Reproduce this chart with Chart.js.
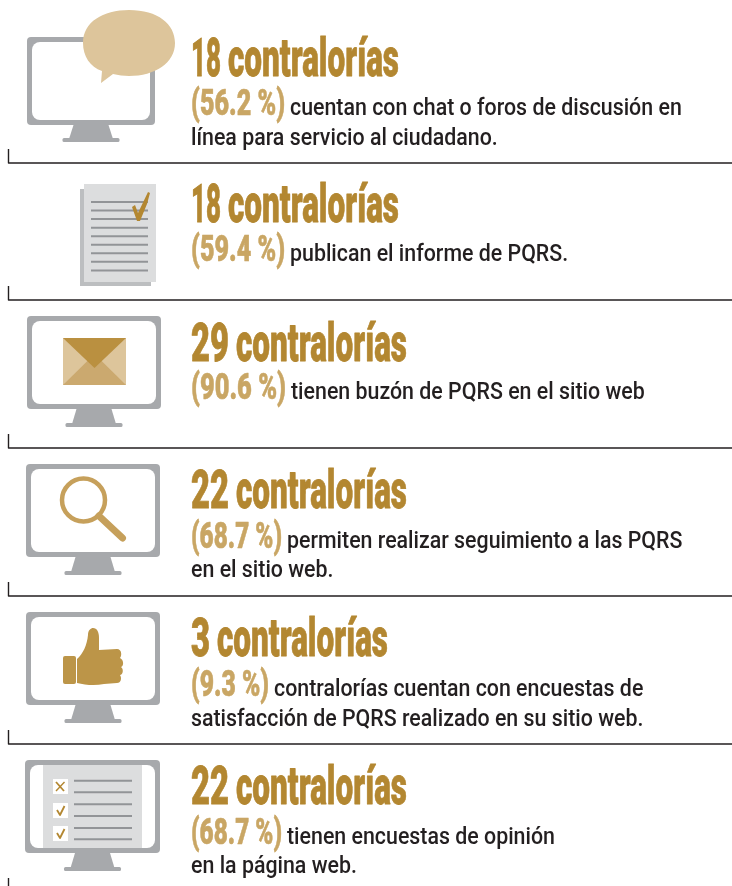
<!DOCTYPE html>
<html lang="es">
<head>
<meta charset="utf-8">
<title>Contralorías PQRS</title>
<style>
  html, body { margin: 0; padding: 0; background: #fff; }
  canvas { display: block; }
</style>
<script src="https://cdn.jsdelivr.net/npm/chart.js@4"></script>
</head>
<body>
<canvas id="chart" width="732" height="886"></canvas>
<script>
// values
const rows = ['chat', 'informe', 'buzon', 'seguimiento', 'encuestas', 'opinion'];
const counts = [18, 18, 29, 22, 3, 22];
const percents = ['56.2', '59.4', '90.6', '68.7', '9.3', '68.7'];
const firstLines = [
  'cuentan con chat o foros de discusión en',
  'publican el informe de PQRS.',
  'tienen buzón de PQRS en el sitio web',
  'permiten realizar seguimiento a las PQRS',
  'contralorías cuentan con encuestas de',
  'tienen encuestas de opinión'
];
const secondLines = [
  'línea para servicio al ciudadano.',
  '',
  '',
  'en el sitio web.',
  'satisfacción de PQRS realizado en su sitio web.',
  'en la página web.'
];

// layout, per row
const headBase = [76, 222, 361, 508, 656, 804];
const pctBase = [115, 261, 399, 548, 696, 844];
const line2Base = [145, 0, 0, 577, 726, 873];
const bodyX = [290, 290, 291, 287, 274, 287];
const countEnd = [221, 221, 229, 229, 210, 229];
const wordX = [228, 228, 236, 236, 217, 236];
const ruleY = [163, 300, 448, 596, 744];

const GOLD = '#B38731';
const GOLD_SOFT = '#C9A664';
const SAND = '#DDC59B';
const GREY = '#A7A9AC';
const PAPER = '#DCDDDE';
const INK = '#231F20';
const LINE = '#929497';

// draws text squeezed to a given width
function fitted(ctx, text, x, y, font, width, color, heft) {
  ctx.save();
  ctx.font = font;
  const sx = width / ctx.measureText(text).width;
  ctx.translate(x, y);
  ctx.scale(sx, 1);
  ctx.fillStyle = color;
  ctx.textBaseline = 'alphabetic';
  ctx.fillText(text, 0, 0);
  if (heft) {
    ctx.strokeStyle = color;
    ctx.lineWidth = heft;
    ctx.lineJoin = 'round';
    ctx.strokeText(text, 0, 0);
  }
  ctx.restore();
}

function squeezed(ctx, text, x, y, font, sx, color) {
  ctx.save();
  ctx.translate(x, y);
  ctx.scale(sx, 1);
  ctx.font = font;
  ctx.fillStyle = color;
  ctx.textBaseline = 'alphabetic';
  ctx.fillText(text, 0, 0);
  ctx.restore();
}

function roundRect(ctx, x, y, w, h, r, color) {
  ctx.beginPath();
  ctx.roundRect(x, y, w, h, r);
  ctx.fillStyle = color;
  ctx.fill();
}

function monitor(ctx, x, y, w, h, baseY, panel) {
  const mid = x + w / 2;
  roundRect(ctx, x, y, w, h, 4, GREY);
  roundRect(ctx, x + 5, y + 5, w - 10, h - 10, 8, '#fff');
  if (panel) {
    ctx.fillStyle = PAPER;
    ctx.fillRect(x + 18, y + 5, w - 36, h - 10);
  }
  ctx.fillStyle = GREY;
  ctx.beginPath();
  ctx.moveTo(mid - 17.5, y + h);
  ctx.lineTo(mid + 17.5, y + h);
  ctx.lineTo(mid + 22, baseY);
  ctx.lineTo(mid - 22, baseY);
  ctx.closePath();
  ctx.fill();
  roundRect(ctx, mid - 28.5, baseY - 1, 57, 4, 1.5, GREY);
}

function stroke(ctx, pts, color, width, cap) {
  ctx.beginPath();
  pts.forEach((p, i) => i ? ctx.lineTo(p[0], p[1]) : ctx.moveTo(p[0], p[1]));
  ctx.strokeStyle = color;
  ctx.lineWidth = width;
  ctx.lineCap = cap || 'butt';
  ctx.lineJoin = 'round';
  ctx.stroke();
}

function bubble(ctx) {
  ctx.fillStyle = SAND;
  ctx.beginPath();
  ctx.moveTo(83, 43);
  ctx.bezierCurveTo(83, 22, 103, 10, 129, 10);
  ctx.bezierCurveTo(158, 10, 175, 24, 175, 43);
  ctx.bezierCurveTo(175, 63, 155, 76, 129, 76);
  ctx.bezierCurveTo(124, 76, 118, 75, 113, 74);
  ctx.lineTo(101, 83);
  ctx.lineTo(102, 71);
  ctx.bezierCurveTo(90, 67, 83, 56, 83, 43);
  ctx.closePath();
  ctx.fill();
}

function documentIcon(ctx) {
  ctx.fillStyle = '#BCBEC0';
  ctx.fillRect(80, 189, 71, 97);
  ctx.fillStyle = PAPER;
  ctx.fillRect(84, 184, 72, 98);
  for (let i = 0; i < 9; i++) {
    const y = 202 + i * 8.55;
    stroke(ctx, [[91, y], [148, y]], LINE, 2);
  }
  ctx.fillStyle = GOLD;
  ctx.beginPath();
  ctx.moveTo(132, 207);
  ctx.lineTo(135, 205);
  ctx.lineTo(138, 213);
  ctx.lineTo(148, 192);
  ctx.lineTo(150, 193);
  ctx.lineTo(147, 204);
  ctx.lineTo(140, 221);
  ctx.lineTo(137, 221);
  ctx.closePath();
  ctx.fill();
}

function envelope(ctx) {
  ctx.fillStyle = SAND;
  ctx.fillRect(63, 338, 63, 47);
  ctx.fillStyle = '#CBA96F';
  ctx.beginPath();
  ctx.moveTo(63, 385);
  ctx.lineTo(94.5, 354);
  ctx.lineTo(126, 385);
  ctx.closePath();
  ctx.fill();
  ctx.fillStyle = '#BA9040';
  ctx.beginPath();
  ctx.moveTo(63, 338);
  ctx.lineTo(126, 338);
  ctx.lineTo(94.5, 368);
  ctx.closePath();
  ctx.fill();
}

function magnifier(ctx) {
  ctx.beginPath();
  ctx.arc(83.5, 500, 21.5, 0, Math.PI * 2);
  ctx.strokeStyle = '#C6A05B';
  ctx.lineWidth = 4.5;
  ctx.stroke();
  stroke(ctx, [[99, 516], [122.5, 538]], '#C6A05B', 7, 'round');
}

function thumb(ctx) {
  const c = '#BC9548';
  roundRect(ctx, 63, 656, 13, 28, 2, c);
  ctx.fillStyle = c;
  ctx.beginPath();
  ctx.moveTo(77, 659);
  ctx.bezierCurveTo(83, 654, 87, 645, 88, 635);
  ctx.bezierCurveTo(88, 630, 91, 628, 93, 628);
  ctx.bezierCurveTo(97, 628, 99, 632, 99, 638);
  ctx.lineTo(99, 650);
  ctx.lineTo(117, 649);
  ctx.bezierCurveTo(122, 649, 122, 656, 120, 658);
  ctx.bezierCurveTo(124, 660, 124, 666, 121, 667);
  ctx.bezierCurveTo(124, 669, 123, 675, 120, 675);
  ctx.bezierCurveTo(122, 678, 121, 683, 117, 683);
  ctx.lineTo(104, 684);
  ctx.bezierCurveTo(95, 686, 85, 685, 77, 683);
  ctx.closePath();
  ctx.fill();
}

function checklist(ctx) {
  [779, 803, 826].forEach((y, i) => {
    ctx.fillStyle = '#fff';
    ctx.fillRect(53, y, 15, 15);
    if (i === 0) {
      stroke(ctx, [[56, y + 3], [64, y + 12]], GOLD, 1.8);
      stroke(ctx, [[64.5, y + 3], [56, y + 12]], GOLD, 1.4);
    } else {
      stroke(ctx, [[57, y + 7], [60, y + 12], [64.5, y + 3]], GOLD, 1.8);
    }
  });
  [780.7, 792.3, 804.3, 816, 828, 839.3].forEach(y => {
    stroke(ctx, [[74, y], [132, y]], LINE, 2);
  });
}

const infographic = {
  id: 'infographic',
  afterDraw(chart) {
    const ctx = chart.ctx;
    const values = chart.data.datasets[0].data;

    // separators
    ruleY.forEach(y => {
      stroke(ctx, [[8.5, y - 14], [8.5, y], [732, y]], INK, 1.4);
    });
    stroke(ctx, [[8.5, 878], [8.5, 886]], INK, 1.4);

    // icons
    monitor(ctx, 27, 37, 128, 88, 139);
    bubble(ctx);
    documentIcon(ctx);
    monitor(ctx, 27, 316, 134, 93, 424);
    envelope(ctx);
    monitor(ctx, 26, 464, 134, 93, 572);
    magnifier(ctx);
    monitor(ctx, 26, 612, 134, 93, 720);
    thumb(ctx);
    monitor(ctx, 25, 760, 135, 93, 868, true);
    checklist(ctx);

    // texts
    rows.forEach((r, i) => {
      fitted(ctx, String(values[i]), 191, headBase[i], '900 53px Roboto', countEnd[i] - 191, GOLD, 0.8);
      fitted(ctx, 'contralorías', wordX[i], headBase[i], '900 53px Roboto', 171, GOLD, 0.8);
      fitted(ctx, '(' + percents[i] + ' %)', 191, pctBase[i], '900 36px Roboto', bodyX[i] - 196, GOLD_SOFT, 0.6);
      squeezed(ctx, firstLines[i], bodyX[i], pctBase[i], '500 24px Roboto', 0.89, INK);
      if (secondLines[i]) {
        squeezed(ctx, secondLines[i], 191, line2Base[i], '500 24px Roboto', 0.89, INK);
      }
    });
  }
};

new Chart(document.getElementById('chart'), {
  type: 'bar',
  data: {
    labels: rows,
    datasets: [{ data: counts, backgroundColor: 'transparent', borderWidth: 0 }]
  },
  options: {
    indexAxis: 'y',
    responsive: false,
    animation: false,
    layout: { padding: 0 },
    plugins: { legend: { display: false }, tooltip: { enabled: false } },
    scales: { x: { display: false }, y: { display: false } }
  },
  plugins: [infographic]
});
</script>
</body>
</html>
